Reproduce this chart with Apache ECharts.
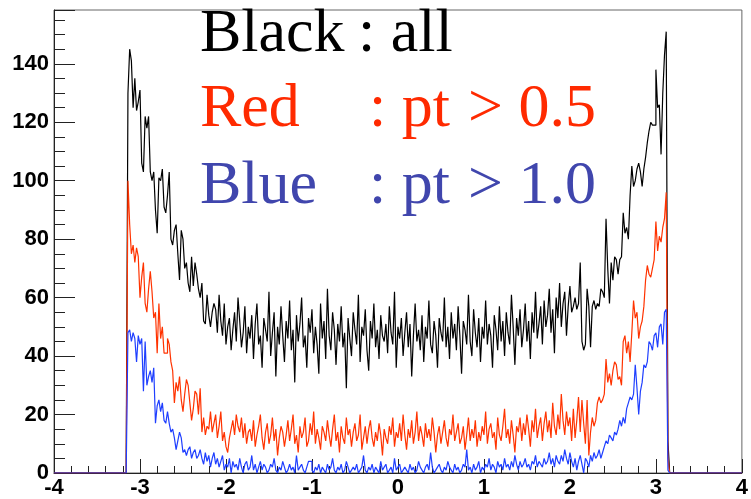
<!DOCTYPE html>
<html>
<head>
<meta charset="utf-8">
<script src="https://cdn.jsdelivr.net/npm/echarts@6/dist/echarts.min.js"></script>
<style>
  html, body { margin: 0; padding: 0; background: #fff; }
  #chart { width: 751px; height: 499px; }
</style>
</head>
<body>
<div id="chart"></div>
<script>
// Histogram binning: 400 bins of width 0.02 over [-4, 4].
// Filled bins start at bin index 42, i.e. [-3.16, -3.14], and run through [3.14, 3.16].
const HIST_MIN = -4;
const HIST_MAX = 4;
const BIN_WIDTH = 0.02;
const N_BINS = 400;
const FIRST_FILLED_BIN = 42;

// Counts per bin, all tracks
const countsAll = [
  6, 130, 145, 141, 125, 135, 124, 127, 131, 106,
  103, 122, 118, 122, 103, 100, 103, 90, 82, 101,
  100, 104, 91, 89, 95, 103, 80, 78, 83, 85,
  75, 66, 83, 80, 70, 72, 65, 62, 74, 64,
  72, 68, 63, 60, 65, 52, 51, 61, 54, 50,
  55, 58, 56, 48, 61, 52, 47, 58, 44, 50,
  53, 42, 49, 55, 45, 60, 52, 43, 48, 57,
  41, 50, 46, 54, 39, 51, 58, 44, 47, 36,
  53, 49, 45, 62, 40, 48, 55, 33, 50, 44,
  57, 47, 38, 52, 46, 59, 42, 49, 31, 54,
  45, 51, 60, 43, 47, 36, 53, 48, 56, 41,
  50, 44, 34, 58, 46, 52, 39, 63, 47, 42,
  55, 49, 37, 51, 45, 57, 43, 48, 29, 53,
  46, 40, 55, 49, 44, 61, 38, 50, 47, 56,
  42, 35, 52, 46, 58, 43, 49, 39, 54, 47,
  45, 51, 41, 57, 48, 44, 62, 36, 50, 46,
  53, 40, 48, 55, 43, 51, 33, 47, 58, 45,
  49, 42, 54, 38, 50, 46, 59, 44, 41, 52,
  47, 36, 53, 48, 45, 60, 43, 50, 39, 55,
  46, 51, 42, 57, 47, 34, 52, 49, 44, 61,
  45, 40, 56, 48, 43, 53, 38, 50, 46, 59,
  44, 51, 47, 36, 54, 49, 42, 57, 45, 52,
  40, 55, 48, 44, 61, 50, 37, 53, 47, 56,
  43, 49, 58, 45, 52, 39, 55, 48, 62, 46,
  51, 57, 44, 59, 50, 54, 63, 48, 56, 41,
  60, 53, 65, 50, 58, 62, 47, 57, 64, 55,
  57, 60, 56, 58, 72, 45, 42, 44, 63, 57,
  43, 57, 59, 56, 58, 57, 63, 62, 60, 87,
  70, 58, 72, 66, 74, 73, 68, 73, 74, 89,
  82, 84, 80, 95, 105, 98, 100, 104, 106, 103,
  98, 104, 108, 113, 117, 120, 119, 119, 138, 125,
  126, 109, 130, 143, 151, 11
];

// Counts per bin, pt > 0.5
const countsPt05 = [
  4, 100, 85, 75, 78, 72, 77, 74, 60, 67,
  72, 58, 55, 63, 69, 62, 53, 55, 41, 58,
  46, 50, 41, 41, 46, 44, 38, 35, 24, 31,
  28, 33, 25, 21, 27, 32, 30, 24, 18, 22,
  28, 27, 20, 29, 14, 19, 13, 16, 15, 21,
  14, 17, 20, 12, 16, 21, 11, 14, 9, 7,
  12, 15, 18, 13, 20, 16, 14, 19, 12, 17,
  10, 14, 15, 11, 18, 9, 13, 16, 20, 12,
  8, 14, 17, 10, 13, 19, 11, 15, 6, 12,
  16, 14, 9, 13, 18, 11, 15, 20, 10, 13,
  7, 16, 12, 14, 19, 9, 11, 17, 13, 21,
  10, 15, 12, 8, 16, 14, 11, 18, 13, 9,
  15, 20, 11, 14, 7, 16, 12, 10, 19, 13,
  15, 9, 14, 17, 11, 13, 20, 8, 12, 16,
  10, 15, 18, 12, 9, 14, 11, 17, 13, 6,
  15, 12, 10, 16, 13, 19, 9, 14, 12, 17,
  11, 20, 13, 8, 15, 12, 18, 10, 14, 21,
  11, 16, 13, 9, 17, 12, 15, 11, 19, 14,
  7, 13, 16, 10, 14, 18, 12, 9, 15, 13,
  20, 11, 14, 17, 10, 12, 16, 8, 13, 19,
  11, 15, 12, 18, 9, 14, 11, 16, 13, 21,
  10, 15, 17, 12, 14, 8, 19, 13, 11, 16,
  22, 12, 15, 10, 18, 13, 7, 16, 14, 19,
  11, 17, 13, 20, 15, 9, 18, 14, 22, 12,
  16, 19, 11, 17, 21, 14, 18, 12, 24, 16,
  13, 20, 15, 27, 18, 13, 21, 16, 19, 11,
  22, 12, 18, 26, 14, 25, 17, 10, 25, 6,
  14, 19, 16, 18, 24, 26, 24, 25, 27, 39,
  31, 34, 30, 35, 38, 37, 32, 33, 30, 45,
  47, 41, 45, 38, 48, 59, 53, 55, 46, 50,
  52, 57, 66, 71, 68, 67, 70, 73, 86, 76,
  81, 79, 84, 87, 96, 5
];

// Counts per bin, pt > 1.0
const countsPt10 = [
  1, 48, 49, 45, 48, 46, 38, 47, 44, 46,
  28, 45, 30, 33, 35, 31, 36, 17, 23, 25,
  21, 24, 18, 17, 21, 17, 14, 15, 12, 8,
  11, 14, 12, 7, 8, 6, 8, 9, 5, 7,
  8, 5, 6, 8, 5, 3, 7, 4, 6, 2,
  5, 7, 3, 5, 2, 4, 6, 1, 3, 2,
  5, 0, 4, 2, 3, 1, 5, 2, 0, 3,
  4, 1, 2, 6, 1, 3, 0, 2, 4, 1,
  3, 2, 0, 1, 3, 2, 5, 1, 0, 2,
  1, 4, 2, 0, 1, 3, 1, 2, 0, 6,
  1, 2, 3, 1, 0, 2, 4, 4, 1, 0,
  2, 1, 3, 0, 2, 1, 0, 3, 1, 2,
  5, 1, 0, 2, 1, 3, 0, 1, 4, 2,
  0, 1, 2, 1, 3, 0, 1, 2, 6, 1,
  0, 2, 1, 3, 0, 2, 1, 0, 4, 1,
  2, 3, 0, 1, 2, 0, 5, 1, 2, 3,
  0, 1, 2, 1, 0, 3, 1, 2, 0, 1,
  4, 2, 1, 0, 2, 3, 1, 7, 2, 0,
  1, 2, 3, 1, 0, 2, 1, 4, 2, 1,
  0, 3, 1, 2, 0, 1, 3, 2, 8, 1,
  2, 0, 3, 1, 2, 4, 0, 2, 1, 3,
  2, 5, 1, 3, 2, 0, 4, 2, 3, 1,
  5, 2, 3, 1, 4, 2, 6, 3, 1, 4,
  2, 3, 5, 2, 3, 1, 4, 3, 6, 2,
  4, 3, 2, 5, 3, 4, 7, 3, 5, 2,
  6, 4, 3, 6, 4, 8, 5, 3, 7, 4,
  2, 5, 1, 4, 6, 3, 0, 5, 4, 2,
  6, 4, 7, 5, 6, 8, 5, 7, 9, 11,
  10, 13, 12, 11, 14, 13, 15, 18, 16, 19,
  17, 22, 24, 26, 25, 27, 37, 29, 20, 28,
  31, 37, 36, 38, 45, 44, 42, 47, 48, 43,
  50, 51, 44, 55, 56, 1
];

// Axis settings and tick labels
const Y_MAX = 158.4;
const xTickLabels = ['-4', '-3', '-2', '-1', '0', '1', '2', '3', '4'];
const yTickLabels = ['0', '20', '40', '60', '80', '100', '120', '140'];

// Annotation text: selection name, variable, and threshold
const legendWords = ['Black', 'Red', 'Blue'];
const legendVars = [': all', ': pt', ': pt'];
const legendCuts = ['', '> 0.5', '> 1.0'];
const legendColors = ['#000000', '#ff2a00', '#4046ad'];

// Turn bin counts into step points at the left edge of each bin,
// closing with a zero point at the upper histogram edge.
function histPoints(counts) {
  const pts = [];
  for (let i = 0; i < N_BINS; i++) {
    const j = i - FIRST_FILLED_BIN;
    const v = (j >= 0 && j < counts.length) ? counts[j] : 0;
    pts.push([HIST_MIN + i * BIN_WIDTH, v]);
  }
  pts.push([HIST_MAX, 0]);
  return pts;
}

const chart = echarts.init(document.getElementById('chart'), null, { renderer: 'canvas' });

const labelFont = { fontFamily: '"Liberation Sans", Arial, sans-serif', fontWeight: 'bold', fontSize: 22, color: '#000' };
const serif = '"Liberation Serif", "Times New Roman", serif';

function histSeries(name, counts, color) {
  return {
    name: name,
    type: 'line',
    step: 'end',
    data: histPoints(counts),
    showSymbol: false,
    symbol: 'none',
    silent: true,
    lineStyle: { color: color, width: 1.2 },
    emphasis: { disabled: true }
  };
}

function annotation(text, x, y, color) {
  return {
    type: 'text', x: x, y: y, silent: true,
    style: { text: text, fill: color, fontFamily: serif, fontSize: 62, align: 'left', verticalAlign: 'middle' }
  };
}

const rowY = [35, 110, 187];
const annotations = [];
for (let r = 0; r < 3; r++) {
  annotations.push(annotation(legendWords[r], 200, rowY[r], legendColors[r]));
  annotations.push(annotation(legendVars[r], r === 0 ? 358 : 369, rowY[r], legendColors[r]));
  if (legendCuts[r]) annotations.push(annotation(legendCuts[r], 468, rowY[r], legendColors[r]));
}

const option = {
  animation: false,
  backgroundColor: '#ffffff',
  grid: {
    left: 54, right: 6, top: 10, bottom: 22,
    show: true, borderColor: '#666', borderWidth: 1, backgroundColor: 'transparent'
  },
  xAxis: {
    type: 'value',
    min: HIST_MIN, max: HIST_MAX, interval: 1,
    axisLine: { show: true, onZero: false, lineStyle: { color: '#222', width: 1 } },
    axisTick: { show: true, inside: true, length: 14, lineStyle: { color: '#222' } },
    minorTick: { show: true, splitNumber: 5, length: 7, lineStyle: { color: '#222' } },
    splitLine: { show: false },
    axisLabel: {
      margin: 4, ...labelFont,
      formatter: function (v) {
        const idx = Math.round(v - HIST_MIN);
        return xTickLabels[idx] !== undefined ? xTickLabels[idx] : '';
      }
    }
  },
  yAxis: [
    {
      type: 'value', position: 'left',
      min: 0, max: Y_MAX, interval: 20,
      axisLine: { show: true, onZero: false, lineStyle: { color: '#222', width: 1 } },
      axisTick: { show: true, inside: true, length: 21, lineStyle: { color: '#222' } },
      splitLine: { show: false },
      axisLabel: {
        margin: 5, ...labelFont,
        formatter: function (v) {
          const idx = Math.round(v / 20);
          return (Math.abs(v - idx * 20) < 1e-6 && yTickLabels[idx] !== undefined) ? yTickLabels[idx] : '';
        }
      }
    },
    {
      // minor ticks every 5 counts
      type: 'value', position: 'left',
      min: 0, max: Y_MAX, interval: 5,
      axisLine: { show: false, onZero: false },
      axisTick: { show: true, inside: true, length: 11, lineStyle: { color: '#222' } },
      splitLine: { show: false },
      axisLabel: { show: false }
    }
  ],
  series: [
    histSeries('all', countsAll, '#000000'),
    histSeries('pt > 0.5', countsPt05, '#ff3300'),
    histSeries('pt > 1.0', countsPt10, '#1f3fff')
  ],
  graphic: annotations
};

chart.setOption(option);
</script>
</body>
</html>
